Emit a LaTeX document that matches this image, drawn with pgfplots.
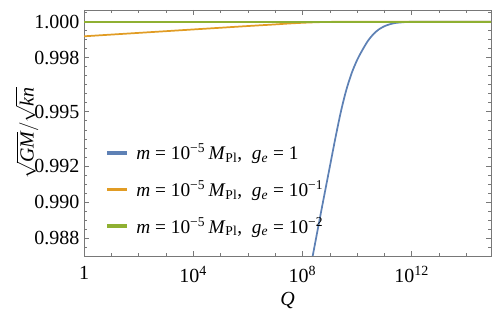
\documentclass[border=0pt]{standalone}
\usepackage{fontspec}
\setmainfont{Liberation Serif}
\usepackage{pgfplots}
\pgfplotsset{compat=1.18}
\definecolor{mblue}{RGB}{94,129,181}
\definecolor{morange}{RGB}{225,156,36}
\definecolor{mgreen}{RGB}{143,176,50}
\definecolor{framegray}{RGB}{120,120,120}
\begin{document}
\begin{tikzpicture}
\begin{axis}[
  scale only axis, width=305.25pt, height=184.5pt,
  xmode=log, xmin=1, xmax=7.943e14,
  ymin=0.987, ymax=1.00065,
  xtick={1,1e4,1e8,1e12},
  xticklabels={1, 10\textsuperscript{4}, 10\textsuperscript{8}, 10\textsuperscript{12}},
  minor xtick={10,100,1000,1e5,1e6,1e7,1e9,1e10,1e11,1e13,1e14},
  ytick={0.988,0.990,0.992,0.995,0.998,1.000},
  minor ytick={0.9870,0.9875,0.9880,0.9885,0.9890,0.9895,0.9900,0.9905,0.9910,0.9915,0.9920,0.9925,0.9930,0.9935,0.9940,0.9945,0.9950,0.9955,0.9960,0.9965,0.9970,0.9975,0.9980,0.9985,0.9990,0.9995,1.0000,1.0005},
  yticklabel style={/pgf/number format/.cd, fixed, fixed zerofill, precision=3},
  /pgf/number format/assume math mode=true,
  tick align=inside,
  major tick length=4pt, minor tick length=2.2pt,
  axis line style={draw=framegray},
  tick style={draw=framegray, line width=0.5pt},
  tick label style={font=\fontsize{15}{17}\selectfont},
  xticklabel style={yshift=-4pt},
  xlabel={\textit{Q}},
  ylabel={$\sqrt{\textit{GM}}/\sqrt{\textit{kn}}$},
  label style={font=\fontsize{15}{17}\selectfont},
  xlabel style={at={(axis description cs:0.5,-0.179)}, anchor=center},
  ylabel style={at={(axis description cs:-0.14,0.5)}, anchor=center},
  legend cell align=left,
  legend style={at={(axis description cs:0.05,0.478)}, anchor=north west,
    draw=none, fill=none, font=\fontsize{14.5}{16}\selectfont, row sep=10pt, inner sep=2pt},
]
\addplot[draw=mblue, line width=1.3pt, smooth,
  legend image code/.code={\fill[mblue] (0pt,-0.6pt) rectangle (13.5pt,0.6pt); \path (18.5pt,0pt);}] coordinates {
  (1.585e8,0.98562) (2.512e8,0.98722) (3.981e8,0.98882) (6.310e8,0.99040)
  (1e9,0.99196) (1.585e9,0.99352) (2.512e9,0.99498) (3.981e9,0.99620)
  (6.310e9,0.99715) (1e10,0.99788) (1.585e10,0.99845) (2.512e10,0.99895)
  (3.981e10,0.99932) (6.310e10,0.99958) (1e11,0.99975) (1.585e11,0.99986)
  (2.512e11,0.99993) (3.981e11,0.99996) (6.310e11,0.999985) (1e12,0.999995)
  (2.512e12,1.0) (7.943e14,1.0)
};
\addlegendentry{\textit{m} = 10\textsuperscript{−5}\,\textit{M}\textsubscript{Pl},\ \ \textit{g}\textsubscript{\textit{e}} = 1}
\addplot[draw=morange, line width=1.3pt, smooth,
  legend image code/.code={\fill[morange] (0pt,-0.6pt) rectangle (13.5pt,0.6pt); \path (18.5pt,0pt);}] coordinates {
  (1,0.99919) (100,0.99938) (1e4,0.99957) (1e6,0.99976) (1e7,0.99985)
  (3.162e7,0.99990) (1e8,0.99994) (3.162e8,0.99997) (1e9,0.99999)
  (1e10,1.0) (7.943e14,1.0)
};
\addlegendentry{\textit{m} = 10\textsuperscript{−5}\,\textit{M}\textsubscript{Pl},\ \ \textit{g}\textsubscript{\textit{e}} = 10\textsuperscript{−1}}
\addplot[draw=mgreen, line width=1.3pt,
  legend image code/.code={\fill[mgreen] (0pt,-0.6pt) rectangle (13.5pt,0.6pt); \path (18.5pt,0pt);}] coordinates {
  (1,1.0) (7.943e14,1.0)
};
\addlegendentry{\textit{m} = 10\textsuperscript{−5}\,\textit{M}\textsubscript{Pl},\ \ \textit{g}\textsubscript{\textit{e}} = 10\textsuperscript{−2}}
\end{axis}
\pgfresetboundingbox
\path ([shift={(-63pt,-45pt)}]current axis.south west) rectangle ([shift={(5.25pt,7.5pt)}]current axis.north east);
\end{tikzpicture}
\end{document}
